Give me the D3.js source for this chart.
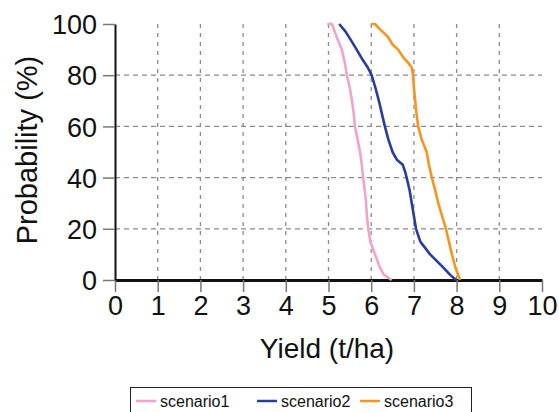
<!DOCTYPE html>
<html>
<head>
<meta charset="utf-8">
<script src="https://cdn.jsdelivr.net/npm/d3@7"></script>
<style>
  body { margin: 0; background: #fff; }
  svg { display: block; font-family: "Liberation Sans", Arial, sans-serif; }
</style>
</head>
<body>
<div id="chart"></div>
<script>
// Datos: [rendimiento t/ha, probabilidad %]
const scenario1 = [[4.97,100],[5.08,100],[5.19,95],[5.31,90],[5.38,85],[5.43,80],[5.5,75],[5.55,70],[5.59,65],[5.62,60],[5.68,55],[5.74,50],[5.78,45],[5.81,40],[5.85,35],[5.88,30],[5.9,25],[5.93,20],[5.98,15],[6.09,10],[6.2,5],[6.3,2],[6.48,0]];
const scenario2 = [[5.25,100],[5.4,97],[5.55,93],[5.66,90],[5.8,86],[5.92,83],[6.01,80],[6.1,75],[6.18,70],[6.25,65],[6.32,60],[6.4,55],[6.5,50],[6.6,47],[6.74,45],[6.8,42],[6.83,40],[6.9,35],[6.95,30],[7.0,25],[7.05,20],[7.15,15],[7.38,10],[7.68,5],[7.85,2],[7.99,0]];
const scenario3 = [[5.99,100],[6.09,100],[6.2,98],[6.39,95],[6.5,92],[6.63,90],[6.75,87],[6.86,85],[6.95,83],[6.98,80],[7.0,75],[7.03,70],[7.06,65],[7.1,60],[7.18,55],[7.3,50],[7.35,45],[7.42,40],[7.5,35],[7.57,30],[7.66,25],[7.75,20],[7.82,15],[7.89,10],[7.97,5],[8.08,0]];
const seriesNames = ['scenario1', 'scenario2', 'scenario3'];
const xTicks = [0,1,2,3,4,5,6,7,8,9,10];
const yTicks = [0,20,40,60,80,100];

const COLORS = ['#f2a3cc', '#2b3c9e', '#f7941d'];

let width = 559, height = 412;
let margin = { left: 115, right: 17, top: 24, bottom: 132 };

let svg = d3.select('#chart').append('svg')
    .attr('width', width)
    .attr('height', height);

let x = d3.scaleLinear().domain([0, 10]).range([margin.left, width - margin.right]);
let y = d3.scaleLinear().domain([0, 100]).range([height - margin.bottom, margin.top]);

//Rejilla
svg.append('g').selectAll('line')
    .data(xTicks.filter(d => d > 0 && d < 10))
    .enter().append('line')
    .attr('x1', d => x(d)).attr('x2', d => x(d))
    .attr('y1', y(100)).attr('y2', y(0))
    .attr('stroke', '#8a8a8a').attr('stroke-width', 1.3)
    .attr('stroke-dasharray', '4,5');

svg.append('g').selectAll('line')
    .data(yTicks.filter(d => d > 0 && d < 100))
    .enter().append('line')
    .attr('x1', x(0)).attr('x2', x(10))
    .attr('y1', d => y(d)).attr('y2', d => y(d))
    .attr('stroke', '#8a8a8a').attr('stroke-width', 1.3)
    .attr('stroke-dasharray', '5,4');

//Ejes
let xAxis = svg.append('g')
    .attr('transform', 'translate(0,' + y(0) + ')')
    .call(d3.axisBottom(x).tickValues(xTicks).tickSize(12).tickPadding(4).tickSizeOuter(0));
let yAxis = svg.append('g')
    .attr('transform', 'translate(' + x(0) + ',0)')
    .call(d3.axisLeft(y).tickValues(yTicks).tickSize(12).tickPadding(6).tickSizeOuter(0));

[xAxis, yAxis].forEach(function(ax) {
    ax.selectAll('.tick line').attr('stroke', '#777').attr('stroke-width', 1.5);
    ax.selectAll('.tick text').attr('fill', '#111').style('font-size', '27px');
});
xAxis.select('.domain').attr('stroke', '#111').attr('stroke-width', 3);
yAxis.select('.domain').attr('stroke', '#111').attr('stroke-width', 2);
yAxis.selectAll('.tick text').attr('dy', '0.36em');

//Titulos
svg.append('text')
    .attr('x', 327).attr('y', 358)
    .attr('text-anchor', 'middle')
    .style('font-size', '28px').attr('fill', '#111')
    .text('Yield (t/ha)');

svg.append('text')
    .attr('transform', 'translate(37,150) rotate(-90)')
    .attr('text-anchor', 'middle')
    .style('font-size', '29px').attr('fill', '#111')
    .text('Probability (%)');

//Curvas
let line = d3.line()
    .x(d => x(d[0]))
    .y(d => y(d[1]));

[scenario1, scenario2, scenario3].forEach(function(serie, i) {
    svg.append('path')
        .datum(serie)
        .attr('d', line)
        .attr('fill', 'none')
        .attr('stroke', COLORS[i])
        .attr('stroke-width', 2.6)
        .attr('stroke-linejoin', 'round');
});

//Leyenda
svg.append('rect')
    .attr('x', 130.5).attr('y', 387.5)
    .attr('width', 341).attr('height', 30)
    .attr('fill', '#fff').attr('stroke', '#222').attr('stroke-width', 1);

let legendX = [136, 257, 360];
seriesNames.forEach(function(name, i) {
    let g = svg.append('g').attr('transform', 'translate(' + legendX[i] + ',0)');
    g.append('line')
        .attr('x1', 0).attr('x2', 20)
        .attr('y1', 401).attr('y2', 401)
        .attr('stroke', COLORS[i]).attr('stroke-width', 2.5);
    g.append('text')
        .attr('x', 24).attr('y', 407)
        .style('font-size', '16px').attr('fill', '#111')
        .text(name);
});
</script>
</body>
</html>
